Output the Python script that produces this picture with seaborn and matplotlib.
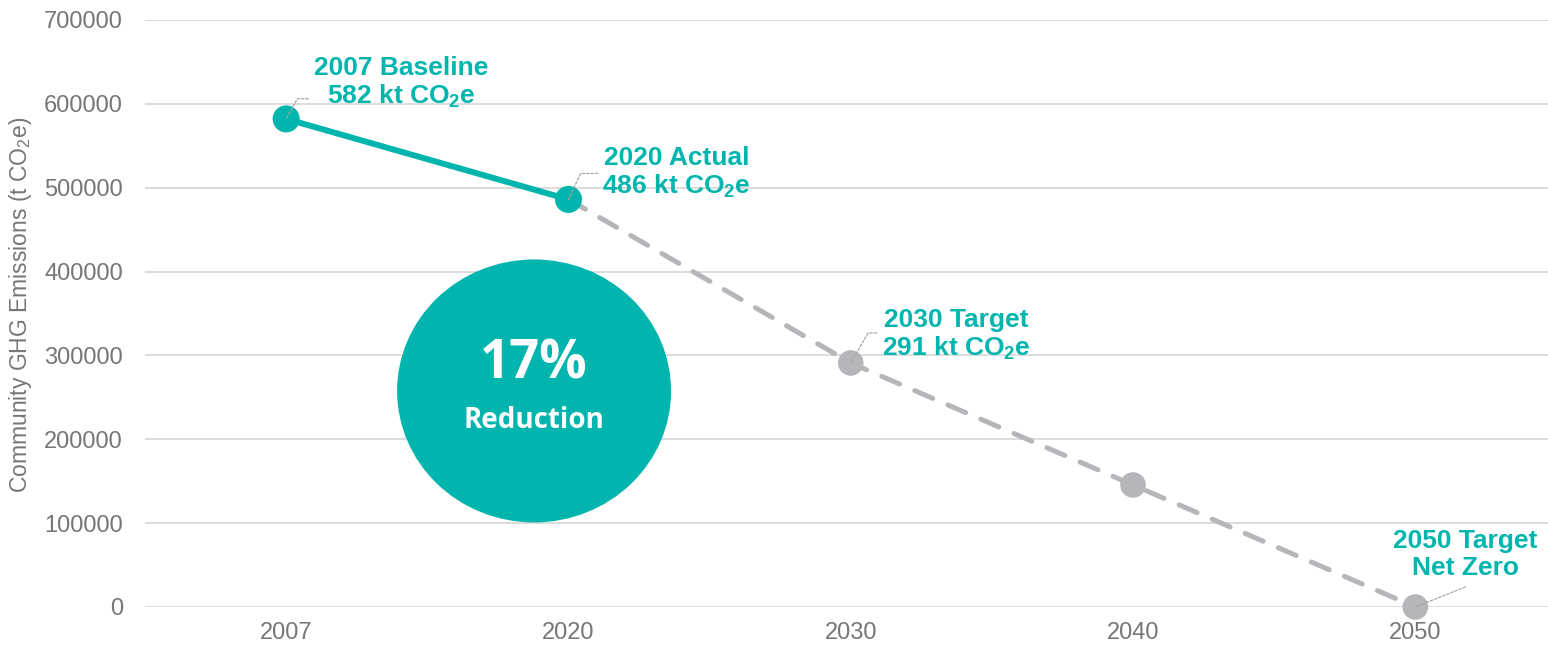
import numpy as np
import pandas as pd
import matplotlib
matplotlib.use("Agg")
from matplotlib import pyplot as plt
from matplotlib.patches import Ellipse
import seaborn as sns

# data
years = ["2007", "2020", "2030", "2040", "2050"]
actual_years = ["2007", "2020"]
actual_values = [582000, 486000]
target_years = ["2020", "2030", "2040", "2050"]
target_values = [486000, 291000, 145500, 0]
label_years = ["2007", "2020", "2030", "2050"]
label_texts = [
    "2007 Baseline\n582 kt CO$_\\mathbf{2}$e",
    "2020 Actual\n486 kt CO$_\\mathbf{2}$e",
    "2030 Target\n291 kt CO$_\\mathbf{2}$e",
    "2050 Target\nNet Zero",
]
reduction_pct = 17

TEAL = "#00B5AD"
GREY = "#B5B6B9"
TICK = "#767676"
GRID = "#D9D9D9"

sns.set_theme(style="white")
plt.rcParams["font.family"] = ["Liberation Sans", "DejaVu Sans"]
plt.rcParams["mathtext.fontset"] = "custom"
plt.rcParams["mathtext.rm"] = "Liberation Sans"
plt.rcParams["mathtext.bf"] = "Liberation Sans:bold"
plt.rcParams["mathtext.it"] = "Liberation Sans:italic"
plt.rcParams["mathtext.default"] = "regular"

pos = {y: i for i, y in enumerate(years)}
actual = pd.DataFrame({"x": [pos[y] for y in actual_years], "value": actual_values})
target = pd.DataFrame({"x": [pos[y] for y in target_years], "value": target_values})

fig = plt.figure(figsize=(15.48, 6.48), dpi=100)
ax = fig.add_axes([0.0937, 0.0633, 0.9063, 0.9059])

# projected path (dashed grey)
sns.lineplot(data=target, x="x", y="value", ax=ax, color=GREY, lw=3.6,
             zorder=2, dash_capstyle="round", clip_on=False)
ax.lines[-1].set_dashes([3.9, 3.3])
sns.scatterplot(data=target.iloc[1:], x="x", y="value", ax=ax, color=GREY,
                s=340, edgecolor="none", zorder=3, clip_on=False)

# actual path (solid teal)
sns.lineplot(data=actual, x="x", y="value", ax=ax, color=TEAL, lw=4.3, zorder=4)
sns.scatterplot(data=actual, x="x", y="value", ax=ax, color=TEAL,
                s=380, edgecolor="none", zorder=5)

ax.set_xlim(-0.5, 4.47)
ax.set_ylim(0, 700000)
ax.set_xticks(range(len(years)))
ax.set_xticklabels(years)
ax.set_yticks(np.arange(0, 700001, 100000))
ax.set_yticklabels([f"{v:d}" for v in range(0, 700001, 100000)])
ax.tick_params(axis="both", length=0, labelsize=17, labelcolor=TICK)
ax.tick_params(axis="y", pad=16)
ax.tick_params(axis="x", pad=11)
ax.yaxis.grid(True, color=GRID, lw=1.3)
ax.set_axisbelow(True)
for s in ax.spines.values():
    s.set_visible(False)
ax.set_xlabel("")
ax.set_ylabel("Community GHG Emissions (t CO$_2$e)", fontsize=16.5, color=TICK)
ax.yaxis.set_label_coords(-0.079, 0.515)

# point labels with dotted leaders
val_lookup = dict(zip(actual_years, actual_values))
val_lookup.update(dict(zip(target_years, target_values)))
text_off = [(83, 26), (78, 19), (76, 20), (36, 38)]
lead_off = [(16, 14.5), (21, 18.7), (18.7, 21.6), (36, 14.4)]
lead_style = ["angle,angleA=0,angleB=61,rad=0", "angle,angleA=0,angleB=65,rad=0",
              "angle,angleA=0,angleB=60,rad=0", "arc3"]
for yr, txt, to, lo, cs in zip(label_years, label_texts, text_off, lead_off, lead_style):
    xy = (pos[yr], val_lookup[yr])
    ax.annotate("", xy=xy, xytext=lo, textcoords="offset points",
                arrowprops=dict(arrowstyle="-", color="#A6A6A6", lw=0.9,
                                linestyle=(0, (2, 1.5)), shrinkA=0, shrinkB=0,
                                connectionstyle=cs), zorder=6)
    ax.annotate(txt, xy=xy, xytext=to, textcoords="offset points",
                ha="center", va="center", color=TEAL, fontsize=19,
                fontweight="bold", linespacing=1.15, zorder=7)

# reduction bubble
ax.add_patch(Ellipse((0.2773, 0.368), 0.1953, 0.448, transform=ax.transAxes,
                     facecolor=TEAL, edgecolor="none", zorder=1.5))
ax.text(0.2773, 0.413, f"{reduction_pct}%", transform=ax.transAxes, ha="center",
        va="center", color="white", fontsize=38, fontweight="bold",
        family=["Open Sans", "DejaVu Sans"], zorder=8)
ax.text(0.2773, 0.318, "Reduction", transform=ax.transAxes, ha="center",
        va="center", color="white", fontsize=20, fontweight="bold",
        family=["Open Sans", "DejaVu Sans"], zorder=8)

fig.savefig("out.png", dpi=100, facecolor="white")
